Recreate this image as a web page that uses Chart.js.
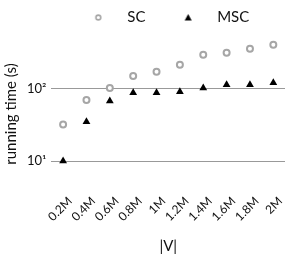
<!DOCTYPE html>
<html>
<head>
<meta charset="utf-8">
<script src="https://cdn.jsdelivr.net/npm/chart.js@4"></script>
<style>
  html, body { margin: 0; padding: 0; background: #fff; }
  #wrap { width: 291px; height: 255px; }
</style>
</head>
<body>
<div id="wrap"><canvas id="chart" width="291" height="255"></canvas></div>
<script>
// Graph size |V| and running times (s)
const sizes = ['0.2M', '0.4M', '0.6M', '0.8M', '1M', '1.2M', '1.4M', '1.6M', '1.8M', '2M'];
const scTimes = [32, 70, 103, 151, 172, 215, 297, 316, 359, 408];
const mscTimes = [10, 35, 68, 88, 88, 91, 103, 114, 114, 121];
const yTicks = [10, 100];
const yTickLabels = ['10¹', '10²'];

const FONT = 'Lato, "Noto Sans", sans-serif';

// small markers for the legend
function legendMarker(kind) {
    const c = document.createElement('canvas');
    c.width = 9; c.height = 9;
    const g = c.getContext('2d');
    if (kind === 'ring') {
        g.strokeStyle = '#a6a6a6';
        g.lineWidth = 1.6;
        g.beginPath();
        g.arc(4.5, 4.5, 2.4, 0, Math.PI * 2);
        g.stroke();
    } else {
        g.fillStyle = '#000';
        g.beginPath();
        g.moveTo(4.5, 1);
        g.lineTo(8, 7.5);
        g.lineTo(1, 7.5);
        g.closePath();
        g.fill();
    }
    return c;
}

// legend sits over the plot area, not the whole canvas
const shiftLegend = {
    id: 'shiftLegend',
    afterLayout(chart) {
        chart.legend.left += 19;
        chart.legend.right += 19;
    }
};

new Chart(document.getElementById('chart').getContext('2d'), {
    type: 'line',
    data: {
        labels: sizes,
        datasets: [{
            label: 'SC\u2003',
            data: scTimes,
            showLine: false,
            clip: false,
            pointStyle: 'circle',
            pointRadius: 3,
            borderWidth: 2,
            borderColor: '#a6a6a6',
            backgroundColor: '#fff'
        }, {
            label: 'MSC',
            data: mscTimes,
            showLine: false,
            clip: false,
            pointStyle: 'triangle',
            pointRadius: 4.5,
            borderWidth: 0,
            borderColor: '#000',
            backgroundColor: '#000'
        }]
    },
    options: {
        responsive: false,
        animation: false,
        layout: { padding: { top: 0, right: 5, left: 2, bottom: 0 } },
        plugins: {
            tooltip: { enabled: false },
            legend: {
                position: 'top',
                labels: {
                    usePointStyle: true,
                    pointStyleWidth: 43,
                    boxHeight: 9,
                    padding: 10,
                    color: '#111',
                    font: { family: FONT, size: 15 },
                    generateLabels: chart => chart.data.datasets.map((ds, i) => ({
                        text: ds.label,
                        datasetIndex: i,
                        pointStyle: legendMarker(i === 0 ? 'ring' : 'tri'),
                        fillStyle: '#fff',
                        strokeStyle: '#fff',
                        lineWidth: 0,
                        fontColor: '#111'
                    }))
                }
            }
        },
        scales: {
            x: {
                offset: true,
                grid: { display: false, drawTicks: false },
                border: { display: false },
                ticks: {
                    autoSkip: false,
                    minRotation: 45,
                    maxRotation: 45,
                    labelOffset: 7,
                    color: '#111',
                    padding: 1,
                    font: { family: FONT, size: 12 }
                },
                title: {
                    display: true,
                    text: '|V|',
                    color: '#111',
                    padding: { top: 12, bottom: 0 },
                    font: { family: FONT, size: 15 }
                }
            },
            y: {
                type: 'logarithmic',
                min: 3.6,
                max: 556,
                afterBuildTicks: scale => {
                    scale.ticks = yTicks.map(v => ({ value: v }));
                },
                grid: { color: '#999', lineWidth: 1, drawTicks: false },
                border: { display: false },
                ticks: {
                    padding: 5,
                    color: '#111',
                    font: { family: FONT, size: 13 },
                    callback: value => yTickLabels[yTicks.indexOf(value)]
                },
                title: {
                    display: true,
                    text: 'running time (s)',
                    color: '#111',
                    padding: { top: 0, bottom: 2 },
                    font: { family: FONT, size: 15 }
                }
            }
        }
    },
    plugins: [shiftLegend]
});
</script>
</body>
</html>
